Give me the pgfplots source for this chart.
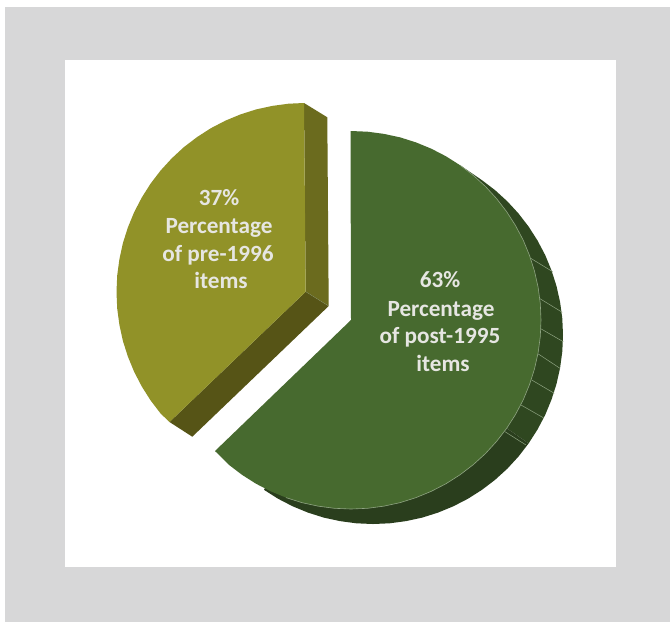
\documentclass[border=0pt]{standalone}
\usepackage{fontspec}
\setmainfont{Carlito}
\usepackage{pgfplots}
\usepackage{pgfplotstable}
\pgfplotsset{compat=1.18}

\definecolor{frame}{HTML}{D7D7D8}
\definecolor{olive}{HTML}{919228}
\definecolor{oliveside}{HTML}{6B6B1E}
\definecolor{olivelow}{HTML}{565416}
\definecolor{green}{HTML}{476A2F}
\definecolor{sideA}{HTML}{2F4720}
\definecolor{sideB}{HTML}{2A3E1D}
\definecolor{edge}{HTML}{8FA482}
\definecolor{lbl}{HTML}{E6E6E2}
\tikzset{lab/.style={text=lbl,font=\fontsize{23.3}{28}\selectfont\bfseries,anchor=base,inner sep=0pt}}

% all values in picture pixels, y downwards
\pgfplotstableread{
x y
0 0
670 0
670 622
0 622
}\pagerect
\pgfplotstableread{
x y
5 7
670 7
670 622
5 622
}\framerect
\pgfplotstableread{
x y
65 60
616 60
616 567
65 567
}\whiterect
\pgfplotstableread{
x y
304 103
288.6 103.7
272.3 105.9
256.2 109.4
240.5 114.4
225.3 120.7
210.7 128.3
196.9 137.2
183.8 147.2
171.7 158.4
160.6 170.5
150.6 183.6
141.8 197.5
134.2 212.1
127.9 227.4
122.9 243.1
119.4 259.2
117.2 275.5
116.5 292
117.2 308.5
119.4 324.8
122.9 340.9
127.9 356.6
134.2 371.9
141.8 386.5
150.6 400.4
160.6 413.5
169.5 422
305.7 291.7
}\oliveface
\pgfplotstableread{
x y
304 103
327.3 117.3
328.7 306
305.7 291.7
}\oliveright
\pgfplotstableread{
x y
305.7 291.7
328.7 306
192.3 436.7
169.5 422
}\olivebottom
% right hand side wall of the green slice
\pgfplotstableread{
x y
460 165.2
482 180.2
495.1 190.2
507.4 201.4
518.5 213.5
528.6 226.6
537.5 240.5
545.2 255.1
551.5 270.4
556.5 286.1
560.1 302.2
562.3 318.5
563 335
562.3 351.5
560.1 367.8
556.5 383.9
551.5 399.6
545.2 414.9
537.5 429.5
528.6 443.4
351 320
}\wallupper
\pgfplotstableread{
x y
528.6 443.4
518.5 456.5
507.4 468.6
495.1 479.8
482 489.8
468 498.7
453.3 506.3
438 512.6
422.2 517.6
406 521.1
389.6 523.3
373 524
356.4 523.3
340 521.1
323.8 517.6
308 512.6
292.7 506.3
278 498.7
264 489.8
351 320
}\walllower
\pgfplotstableread{
x y
350.5 131
367.6 131.7
384 133.9
400.2 137.4
416 142.4
431.3 148.7
446 156.3
460 165.2
473.1 175.2
485.4 186.4
496.5 198.5
506.6 211.6
515.5 225.5
523.2 240.1
529.5 255.4
534.5 271.1
538.1 287.2
540.3 303.5
541 320
540.3 336.5
538.1 352.8
534.5 368.9
529.5 384.6
523.2 399.9
515.5 414.5
506.6 428.4
496.5 441.5
485.4 453.6
473.1 464.8
460 474.8
446 483.7
431.3 491.3
416 497.6
400.2 502.6
384 506.1
367.6 508.3
351 509
334.4 508.3
318 506.1
301.8 502.6
286 497.6
270.7 491.3
256 483.7
242 474.8
228.9 464.8
215 451
351 320
}\greenface
\pgfplotstableread{
x y
460 165.2
473.1 175.2
485.4 186.4
496.5 198.5
506.6 211.6
515.5 225.5
523.2 240.1
529.5 255.4
534.5 271.1
538.1 287.2
540.3 303.5
541 320
540.3 336.5
538.1 352.8
534.5 368.9
529.5 384.6
523.2 399.9
515.5 414.5
506.6 428.4
496.5 441.5
485.4 453.6
473.1 464.8
460 474.8
446 483.7
431.3 491.3
416 497.6
400.2 502.6
384 506.1
367.6 508.3
351 509
334.4 508.3
318 506.1
301.8 502.6
286 497.6
}\greenrim

\begin{document}
\begin{tikzpicture}
\begin{axis}[
	scale only axis,
	width=670bp,
	height=622bp,
	xmin=0,xmax=670,
	ymin=0,ymax=622,
	y dir=reverse,
	hide axis,
	clip=true,
]
\addplot[fill=white,draw=none] table {\pagerect};
\addplot[fill=frame,draw=none] table {\framerect};
\addplot[fill=white,draw=none] table {\whiterect};
\addplot[fill=oliveside,draw=none] table {\oliveright};
\addplot[fill=olivelow,draw=none] table {\olivebottom};
\addplot[fill=olive,draw=none] table {\oliveface};
\addplot[edge,opacity=.5,line width=.4bp] coordinates {(305.7,291.7) (328.7,306)};
\addplot[fill=sideA,draw=none] table {\wallupper};
\addplot[fill=sideB,draw=none] table {\walllower};
% panel lines on the wall
\addplot[edge,line width=.5bp] coordinates {(530.7,258.3) (552.7,271.7)};
\addplot[edge,line width=.5bp] coordinates {(539.3,298.3) (562.3,312.3)};
\addplot[edge,line width=.5bp] coordinates {(540,328.3) (563.3,341.7)};
\addplot[edge,line width=.5bp] coordinates {(538.3,354) (560,368.3)};
\addplot[edge,line width=.5bp] coordinates {(531.7,380) (554.3,393.3)};
\addplot[edge,line width=.5bp] coordinates {(521,405) (543.3,417.7)};
\addplot[edge,line width=.5bp] coordinates {(505,431.7) (526,445)};
\addplot[fill=green,draw=none] table {\greenface};
\addplot[edge,line width=.6bp] table {\greenrim};

\node[lab] at (axis cs:219,205.5) {37\%};
\node[lab] at (axis cs:219,233) {Percentage};
\node[lab] at (axis cs:218,261) {of pre-1996};
\node[lab] at (axis cs:221,288) {items};
\node[lab] at (axis cs:440,287.5) {63\%};
\node[lab] at (axis cs:441,316) {Percentage};
\node[lab] at (axis cs:440,343) {of post-1995};
\node[lab] at (axis cs:443,371) {items};
\end{axis}
\end{tikzpicture}
\end{document}
